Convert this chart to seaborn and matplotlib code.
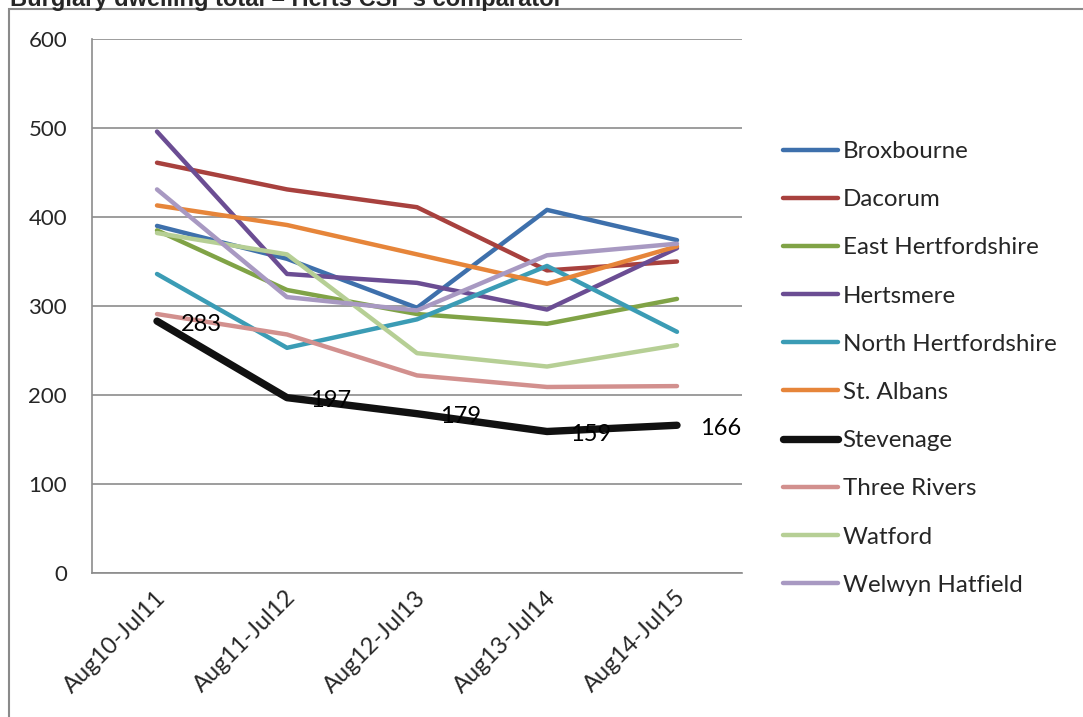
import numpy as np
import pandas as pd
import matplotlib
matplotlib.use('Agg')
import matplotlib.pyplot as plt
import matplotlib.patches as mpatches
import seaborn as sns

# ── 데이터 ───────────────────────────────────────────────────────────────
periods = ['Aug10-Jul11', 'Aug11-Jul12', 'Aug12-Jul13', 'Aug13-Jul14', 'Aug14-Jul15']
districts = ['Broxbourne', 'Dacorum', 'East Hertfordshire', 'Hertsmere',
             'North Hertfordshire', 'St. Albans', 'Stevenage', 'Three Rivers',
             'Watford', 'Welwyn Hatfield']
broxbourne = [390, 353, 298, 408, 374]
dacorum = [461, 431, 411, 340, 350]
east_herts = [385, 318, 291, 280, 308]
hertsmere = [496, 336, 326, 296, 365]
north_herts = [336, 253, 285, 345, 271]
st_albans = [413, 391, 358, 325, 367]
stevenage = [283, 197, 179, 159, 166]
three_rivers = [291, 268, 222, 209, 210]
watford = [382, 358, 247, 232, 256]
welwyn = [431, 310, 295, 357, 370]

series = [broxbourne, dacorum, east_herts, hertsmere, north_herts,
          st_albans, stevenage, three_rivers, watford, welwyn]
colors = ['#3E70AC', '#A8413E', '#80A346', '#6B4D93', '#3B9CB5',
          '#E6853A', '#111111', '#D2908E', '#B6CF95', '#A899C2']

df = pd.DataFrame({
    'district': np.repeat(districts, len(periods)),
    'pos': np.tile(np.arange(len(periods)), len(districts)),
    'count': np.concatenate(series),
})

# ── 스타일 ───────────────────────────────────────────────────────────────
sns.set_style('white')
plt.rcParams['font.family'] = ['Lato', 'DejaVu Sans']
GRID = '#8C8C8C'
FS = 16

fig = plt.figure(figsize=(10.83, 7.17), dpi=100)
ax = fig.add_axes([92/1083, 1 - 573/717, 650/1083, 534/717])

for name, col in zip(districts, colors):
    sub = df[df['district'] == name]
    lw = 5.3 if name == 'Stevenage' else 3.2
    sns.lineplot(data=sub, x='pos', y='count', ax=ax, color=col, linewidth=lw,
                 label=name, legend=False, solid_capstyle='round',
                 zorder=3 if name != 'Stevenage' else 4)

# Stevenage 데이터 라벨
for i, v in enumerate(stevenage):
    ax.annotate(str(v), (i, v), textcoords='offset pixels', xytext=(44, -3),
                ha='center', va='center', fontsize=17, color='black', zorder=6)

ax.set_xlim(-0.5, len(periods) - 0.5)
ax.set_ylim(0, 600)
ax.set_yticks(range(0, 601, 100))
# Excel식 회전 라벨: 카테고리 중심보다 약간 오른쪽에 라벨 끝이 옴
ax.set_xticks(np.arange(len(periods)) + 0.1)
ax.set_xticks(np.arange(-0.5, len(periods), 1.0), minor=True)
ax.set_xticklabels(periods, rotation=45, ha='right', va='top', fontsize=17)
ax.tick_params(axis='x', which='major', length=0, pad=10)
ax.tick_params(axis='x', which='minor', length=6, width=1.2, color=GRID, direction='out')
ax.tick_params(axis='y', length=7, width=1.2, color=GRID, direction='out', pad=11,
               labelsize=FS)
ax.set_xlabel('')
ax.set_ylabel('')
ax.yaxis.grid(True, color=GRID, linewidth=1.2)
ax.xaxis.grid(False)
ax.set_axisbelow(True)
for s in ['top', 'right']:
    ax.spines[s].set_visible(False)
for s in ['left', 'bottom']:
    ax.spines[s].set_color(GRID)
    ax.spines[s].set_linewidth(1.2)

# 범례
handles, labels = ax.get_legend_handles_labels()
fig.legend(handles, labels, loc='upper left',
           bbox_to_anchor=(783/1083, 1 - 141/717), bbox_transform=fig.transFigure,
           frameon=False, fontsize=17.4, borderpad=0, borderaxespad=0,
           handlelength=2.27, handletextpad=0.2, labelspacing=1.125)

# 차트 테두리 & 제목 (위쪽 잘림)
fig.patches.append(mpatches.Rectangle((9/1083, -0.02), 1.0, 1 - 9/717 + 0.02,
                                      transform=fig.transFigure, fill=False,
                                      edgecolor='#8A8A8A', linewidth=1.5))
fig.text(10/1083, 1 - 6/717, "Burglary dwelling total \u2013 Herts CSP's comparator",
         fontsize=17, fontweight='bold', family=['Liberation Sans', 'DejaVu Sans'],
         va='baseline', ha='left')

fig.savefig('out.png', dpi=100)
